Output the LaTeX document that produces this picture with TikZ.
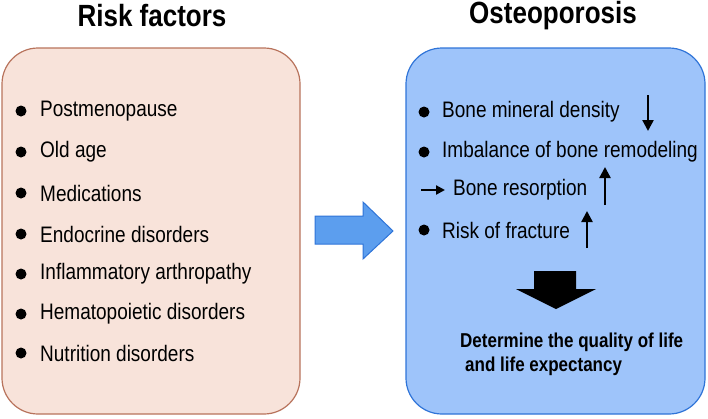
\documentclass[tikz,border=0pt]{standalone}
\usepackage{graphicx}
\usepackage{fontspec}
\setmainfont{Liberation Sans}
\usetikzlibrary{arrows.meta}
\definecolor{pinkfill}{HTML}{F8E3DA}
\definecolor{pinkdraw}{HTML}{B8735C}
\definecolor{bluefill}{HTML}{9EC4FA}
\definecolor{bluedraw}{HTML}{2F74D8}
\definecolor{arrowfill}{HTML}{5C9EEE}
\newcommand{\tallt}[1]{\scalebox{1}[1.18]{#1}}
\tikzset{
  title/.style={font=\fontsize{26}{30}\selectfont\bfseries, inner sep=0pt},
  item/.style={font=\fontsize{19}{22}\selectfont, anchor=west, inner sep=0pt},
  dot/.style={circle, fill=black, minimum size=11pt, inner sep=0pt},
  panel/.style={rounded corners=36pt, line width=1.2pt},
  thinarrow/.style={line width=2.4pt, -{Triangle[length=11pt,width=11pt]}},
  concl/.style={font=\fontsize{17}{20}\selectfont\bfseries, anchor=west, inner sep=0pt}
}
\begin{document}
\begin{tikzpicture}[x=1pt,y=-1pt]
\useasboundingbox (0,0) rectangle (708,418);
% panels
\draw[panel, fill=pinkfill, draw=pinkdraw] (2,48) rectangle (300,414);
\draw[panel, fill=bluefill, draw=bluedraw] (406,48) rectangle (705,414);
% titles
\node[title] (t1) at (152,16) {\tallt{Risk factors}};
\node[title] (t2) at (553,16) {\tallt{Osteoporosis}};
% left items
\foreach \y/\n/\t in {111/a/Postmenopause, 152/b/Old age, 193/c/Medications, 234/d/Endocrine disorders, 274/e/Inflammatory arthropathy, 314/f/Hematopoietic disorders, 353/g/Nutrition disorders}{
  \node[dot] (d\n) at (21,\y) {};
  \node[item] (l\n) at (40,\y) {\tallt{\t}};
}
% blue arrow
\draw[fill=arrowfill, draw=bluedraw, line width=1pt, line join=miter]
  (315,216) -- (363,216) -- (363,202) -- (393,231) -- (363,259) -- (363,244) -- (315,244) -- cycle;
% right items
\node[dot] (r1d) at (424,112) {};
\node[item] (r1) at (442,112) {\tallt{Bone mineral density}};
\node[dot] (r2d) at (424,152) {};
\node[item] (r2) at (442,152) {\tallt{Imbalance of bone remodeling}};
\coordinate (r3s) at (421,190);
\coordinate (r3e) at (445,190);
\draw[line width=2.2pt, -{Triangle[length=9pt,width=9pt]}] (r3s) -- (r3e);
\node[item] (r3) at (453,190) {\tallt{Bone resorption}};
\node[dot] (r4d) at (424,230) {};
\node[item] (r4) at (442,230) {\tallt{Risk of fracture}};
% up/down arrows
\coordinate (a1s) at (648,95); \coordinate (a1e) at (648,131);
\draw[thinarrow] (a1s) -- (a1e);
\coordinate (a2s) at (605,205); \coordinate (a2e) at (605,167);
\draw[thinarrow] (a2s) -- (a2e);
\coordinate (a3s) at (587,248); \coordinate (a3e) at (587,211);
\draw[thinarrow] (a3s) -- (a3e);
% black block arrow
\fill[black] (534,271) -- (576,271) -- (576,289) -- (596,289) -- (556,309) -- (516,289) -- (534,289) -- cycle;
% conclusion
\node[concl] (c1) at (460,342) {\tallt{Determine the quality of life}};
\node[concl] (c2) at (465,366) {\tallt{and life expectancy}};
\end{tikzpicture}
\end{document}
